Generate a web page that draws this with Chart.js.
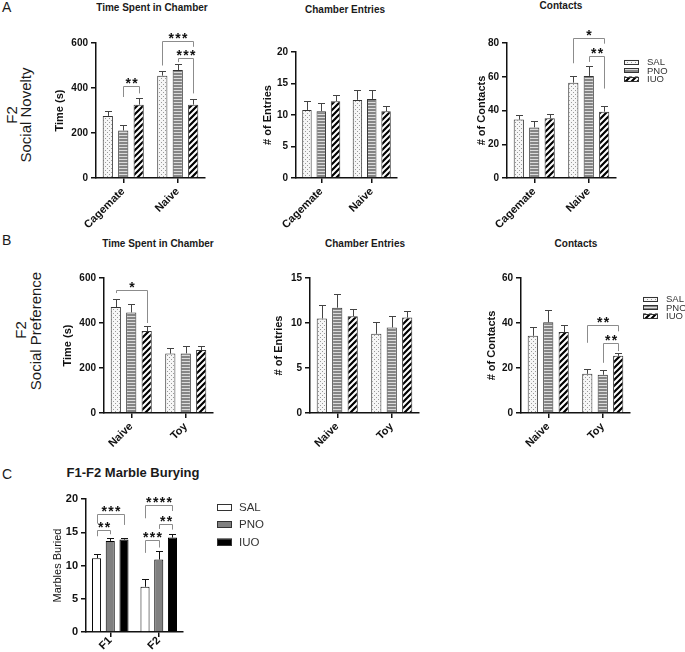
<!DOCTYPE html>
<html>
<head>
<meta charset="utf-8">
<script src="https://cdn.jsdelivr.net/npm/chart.js@4.4.1/dist/chart.umd.min.js"></script>
<style>
  body { margin: 0; width: 685px; height: 652px; background: #fff; position: relative; overflow: hidden;
         font-family: Arial, "Liberation Sans", sans-serif; color: #1a1a1a; }
  canvas { position: absolute; }
  .letter { position: absolute; font-size: 14px; line-height: 14px; }
  .title { position: absolute; font-weight: bold; font-size: 10px; line-height: 10px; white-space: nowrap; transform: translateX(-50%); }
  .side { position: absolute; font-size: 15px; line-height: 15px; white-space: nowrap; transform: translate(-50%, -50%) rotate(-90deg); }
</style>
</head>
<body>
<div class="letter" style="left:2px;top:0px">A</div>
<div class="letter" style="left:2px;top:233px">B</div>
<div class="letter" style="left:2px;top:467px">C</div>

<div class="side" style="left:11px;top:115px">F2</div>
<div class="side" style="left:25px;top:115px">Social Novelty</div>
<div class="side" style="left:20px;top:330px">F2</div>
<div class="side" style="left:35px;top:331px">Social Preference</div>

<div class="title" style="left:152px;top:3px">Time Spent in Chamber</div>
<div class="title" style="left:345px;top:5px">Chamber Entries</div>
<div class="title" style="left:561px;top:1px">Contacts</div>
<div class="title" style="left:158px;top:239px">Time Spent in Chamber</div>
<div class="title" style="left:365px;top:239px">Chamber Entries</div>
<div class="title" style="left:576px;top:239px">Contacts</div>
<div class="title" style="left:133px;top:466px;font-size:13px;line-height:13px">F1-F2 Marble Burying</div>

<script>
const SERIES = ['SAL', 'PNO', 'IUO'];
const noveltyGroups = ['Cagemate', 'Naive'];
const preferenceGroups = ['Naive', 'Toy'];
const marbleGroups = ['F1', 'F2'];

// values per series [SAL, PNO, IUO], one entry per group
const novTimeMean = [[276, 455], [211, 480], [326, 326]];
const novTimeSem = [[21, 22], [23, 28], [29, 25]];
const novEntriesMean = [[10.8, 12.4], [10.6, 12.55], [12.2, 10.6]];
const novEntriesSem = [[1.4, 1.6], [1.3, 1.45], [1.0, 0.9]];
const novContactsMean = [[34.6, 56.5], [30.0, 60.5], [35.4, 39.3]];
const novContactsSem = [[3.0, 4.0], [3.8, 6.1], [2.4, 3.6]];

const prefTimeMean = [[471, 264], [447, 265], [364, 280]];
const prefTimeSem = [[36, 25], [37, 34], [24, 18]];
const prefEntriesMean = [[10.5, 8.8], [11.7, 9.5], [10.75, 10.6]];
const prefEntriesSem = [[1.5, 1.3], [1.5, 1.25], [0.85, 0.75]];
const prefContactsMean = [[34.3, 17.4], [40.3, 17.0], [36.0, 25.4]];
const prefContactsSem = [[4.0, 2.0], [5.5, 2.1], [3.0, 1.3]];

const marbleMean = [[11.1, 6.8], [13.7, 10.9], [13.9, 14.2]];
const marbleSem = [[0.7, 1.1], [0.45, 1.3], [0.3, 0.55]];

// significance: [group, series a, series b, bracket value, leg end a, leg end b, stars]
const novTimeSig = [[0, 1, 2, 407, 360, 376, '**'], [1, 0, 2, 607, 500, 583, '***'], [1, 1, 2, 535, 515, 376, '***']];
const novContactsSig = [[1, 0, 2, 83.2, 68, 79.6, '*'], [1, 1, 2, 72.1, 68.8, 53, '**']];
const prefTimeSig = [[0, 0, 2, 548, 533, 400, '*']];
const prefContactsSig = [[1, 0, 2, 39.3, 31.2, 36.3, '**'], [1, 1, 2, 31.2, 22.3, 27.5, '**']];
const marbleSig = [[0, 0, 2, 17.7, 16.3, 16.1, '***'], [0, 0, 1, 15.3, 14.4, 14.7, '**'],
                   [1, 0, 2, 19.1, 17.1, 18.2, '****'], [1, 1, 2, 16.3, 15.5, 15.4, '**'], [1, 0, 1, 13.8, 11.9, 12.7, '***']];

const FONT = 'Arial, "Liberation Sans", sans-serif';

// fill patterns
function makeTile(w, h, draw) {
  const c = document.createElement('canvas');
  c.width = w; c.height = h;
  const g = c.getContext('2d');
  draw(g);
  return g.createPattern(c, 'repeat');
}
const dotFill = makeTile(4, 4, g => {
  g.fillStyle = '#f6f6f6'; g.fillRect(0, 0, 4, 4);
  g.fillStyle = '#9a9a9a'; g.fillRect(0, 0, 1, 1); g.fillRect(2, 2, 1, 1);
});
const stripeFill = makeTile(4, 3, g => {
  g.fillStyle = '#858585'; g.fillRect(0, 0, 4, 3);
  g.fillStyle = '#dcdcdc'; g.fillRect(0, 2, 4, 1);
});
const diagFill = makeTile(6, 6, g => {
  g.fillStyle = '#fff'; g.fillRect(0, 0, 6, 6);
  g.strokeStyle = '#000'; g.lineWidth = 2.2;
  g.beginPath();
  g.moveTo(-1, 7); g.lineTo(7, -1);
  g.moveTo(-1, 1); g.lineTo(1, -1);
  g.moveTo(5, 7); g.lineTo(7, 5);
  g.stroke();
});
const patternFills = [dotFill, stripeFill, diagFill];
const solidFills = ['#ffffff', '#808080', '#000000'];

// upward-only SEM bars
const errorBars = {
  id: 'errorBars',
  afterDatasetsDraw(chart, args, opts) {
    const ctx = chart.ctx, y = chart.scales.y;
    ctx.save();
    ctx.strokeStyle = opts.color; ctx.lineWidth = 1;
    chart.data.datasets.forEach((ds, di) => {
      chart.getDatasetMeta(di).data.forEach((bar, i) => {
        const x = Math.round(bar.x) + 0.5;
        const top = Math.round(y.getPixelForValue(ds.data[i] + ds.sem[i])) + 0.5;
        ctx.beginPath();
        ctx.moveTo(x, bar.y); ctx.lineTo(x, top);
        ctx.moveTo(x - opts.cap, top); ctx.lineTo(x + opts.cap, top);
        ctx.stroke();
      });
    });
    ctx.restore();
  }
};

// significance brackets
const sigBrackets = {
  id: 'sigBrackets',
  afterDraw(chart, args, opts) {
    const ctx = chart.ctx, y = chart.scales.y;
    ctx.save();
    (opts.sig || []).forEach(([g, a, b, v, la, lb, stars]) => {
      const xa = Math.round(chart.getDatasetMeta(a).data[g].x) + 0.5;
      const xb = Math.round(chart.getDatasetMeta(b).data[g].x) + 0.5;
      const py = Math.round(y.getPixelForValue(v)) + 0.5;
      ctx.strokeStyle = '#8c8c8c'; ctx.lineWidth = 1;
      ctx.beginPath();
      ctx.moveTo(xa, y.getPixelForValue(la)); ctx.lineTo(xa, py);
      ctx.lineTo(xb, py); ctx.lineTo(xb, y.getPixelForValue(lb));
      ctx.stroke();
      ctx.fillStyle = '#111';
      ctx.font = 'bold 14px ' + FONT;
      ctx.textAlign = 'center'; ctx.textBaseline = 'alphabetic';
      const pitch = 6.8, mid = (xa + xb) / 2;
      for (let k = 0; k < stars.length; k++) {
        ctx.fillText('*', mid + (k - (stars.length - 1) / 2) * pitch, py + 1.5);
      }
    });
    ctx.restore();
  }
};

// legend with the bar fills
const patLegend = {
  id: 'patLegend',
  afterDraw(chart, args, opts) {
    if (!opts.items) return;
    const ctx = chart.ctx;
    ctx.save();
    opts.items.forEach((it, i) => {
      const y = opts.y + i * opts.rowH;
      ctx.fillStyle = it.fill;
      ctx.fillRect(opts.x, y - opts.sh / 2, opts.sw, opts.sh);
      ctx.strokeStyle = '#333'; ctx.lineWidth = 1;
      ctx.strokeRect(opts.x + 0.5, Math.round(y - opts.sh / 2) + 0.5, opts.sw - 1, opts.sh - 1);
      ctx.fillStyle = '#333';
      ctx.font = opts.font;
      ctx.textBaseline = 'middle'; ctx.textAlign = 'left';
      ctx.fillText(it.text, opts.x + opts.sw + opts.gap, y + 0.5);
    });
    ctx.restore();
  }
};

function makePanel(p) {
  const T = 45, X = 62;
  const W = Math.round(p.titleGap + 6.6);
  const R = p.rightSpace || 10;
  const cw = Math.round(W + (p.right - p.left) + R);
  const ch = T + (p.bottom - p.top) + X;
  const cLeft = p.left - W, cTop = p.top - T;
  const canvas = document.createElement('canvas');
  canvas.width = cw; canvas.height = ch;
  canvas.style.left = cLeft + 'px';
  canvas.style.top = cTop + 'px';
  document.body.appendChild(canvas);

  const legendOpts = p.legend ? {
    items: SERIES.map((s, i) => ({ text: s, fill: p.fills[i] })),
    x: p.legend.x - cLeft, y: p.legend.y - cTop, rowH: p.legend.rowH,
    sw: p.legend.sw, sh: p.legend.sh, gap: p.legend.gap, font: p.legend.font
  } : {};

  new Chart(canvas, {
    type: 'bar',
    data: {
      labels: p.groups,
      datasets: SERIES.map((name, i) => ({
        label: name,
        data: p.mean[i],
        sem: p.sem[i],
        backgroundColor: p.fills[i],
        borderColor: p.border,
        borderWidth: 1,
        categoryPercentage: 0.85,
        barPercentage: 0.66
      }))
    },
    options: {
      responsive: false,
      animation: false,
      devicePixelRatio: 1,
      layout: { padding: { left: 0, top: T, right: R, bottom: 0 } },
      plugins: {
        legend: { display: false },
        tooltip: { enabled: false },
        errorBars: { color: p.errColor, cap: 3.5 },
        sigBrackets: { sig: p.sig || [] },
        patLegend: legendOpts
      },
      scales: {
        x: {
          offset: true,
          grid: { display: true, drawOnChartArea: false, drawTicks: true, tickLength: 5, offset: false, color: '#111', lineWidth: 1.5 },
          border: { display: true, color: '#111', width: 1.5 },
          ticks: { color: '#111', font: { family: FONT, size: 11, weight: 'bold' }, minRotation: 45, maxRotation: 45,
                   autoSkip: false, padding: p.xPad === undefined ? 2 : p.xPad },
          afterFit(s) { s.height = X; }
        },
        y: {
          min: 0, max: p.max,
          ticks: { stepSize: p.step, color: '#111', font: { family: FONT, size: p.tickSize || 10, weight: 'bold' }, padding: 3 },
          grid: { drawOnChartArea: false, drawTicks: true, tickLength: 5, color: '#111', lineWidth: 1.5 },
          border: { display: true, color: '#111', width: 1.5 },
          title: { display: true, text: p.yTitle, padding: 0, color: '#111',
                   font: { family: FONT, size: 11, weight: p.yBold === false ? 'normal' : 'bold' } },
          afterFit(s) { s.width = W; }
        }
      }
    },
    plugins: [errorBars, sigBrackets, patLegend]
  });
}

const smallLegend = { rowH: 8.5, sw: 15, sh: 5, gap: 8, font: '9.5px ' + FONT };

makePanel({ left: 96, right: 205, top: 43, bottom: 178, titleGap: 36, yTitle: 'Time (s)', max: 600, step: 200,
  groups: noveltyGroups, mean: novTimeMean, sem: novTimeSem, sig: novTimeSig,
  fills: patternFills, border: '#333', errColor: '#444' });
makePanel({ left: 296, right: 397, top: 52, bottom: 178, titleGap: 28, yTitle: '# of Entries', max: 20, step: 5,
  groups: noveltyGroups, mean: novEntriesMean, sem: novEntriesSem,
  fills: patternFills, border: '#333', errColor: '#444' });
makePanel({ left: 507, right: 616, top: 43, bottom: 178, titleGap: 25, yTitle: '# of Contacts', max: 80, step: 20,
  groups: noveltyGroups, mean: novContactsMean, sem: novContactsSem, sig: novContactsSig,
  fills: patternFills, border: '#333', errColor: '#444', rightSpace: 69,
  legend: Object.assign({ x: 624, y: 62 }, smallLegend) });

makePanel({ left: 104, right: 213, top: 278, bottom: 413, titleGap: 36, yTitle: 'Time (s)', max: 600, step: 200,
  groups: preferenceGroups, mean: prefTimeMean, sem: prefTimeSem, sig: prefTimeSig,
  fills: patternFills, border: '#333', errColor: '#444' });
makePanel({ left: 310, right: 419, top: 278, bottom: 413, titleGap: 31, yTitle: '# of Entries', max: 15, step: 5,
  groups: preferenceGroups, mean: prefEntriesMean, sem: prefEntriesSem,
  fills: patternFills, border: '#333', errColor: '#444' });
makePanel({ left: 521, right: 630, top: 278, bottom: 413, titleGap: 29, yTitle: '# of Contacts', max: 60, step: 20,
  groups: preferenceGroups, mean: prefContactsMean, sem: prefContactsSem, sig: prefContactsSig,
  fills: patternFills, border: '#333', errColor: '#444', rightSpace: 55,
  legend: Object.assign({ x: 643, y: 299 }, smallLegend) });

makePanel({ left: 86, right: 183, top: 499, bottom: 632, titleGap: 28, yTitle: 'Marbles Buried', yBold: false, max: 20, step: 5,
  tickSize: 11, xPad: -3, groups: marbleGroups, mean: marbleMean, sem: marbleSem, sig: marbleSig,
  fills: solidFills, border: '#000', errColor: '#111', rightSpace: 90,
  legend: { x: 217, y: 507, rowH: 17.5, sw: 15, sh: 7, gap: 7, font: '11.5px ' + FONT } });
</script>
</body>
</html>
